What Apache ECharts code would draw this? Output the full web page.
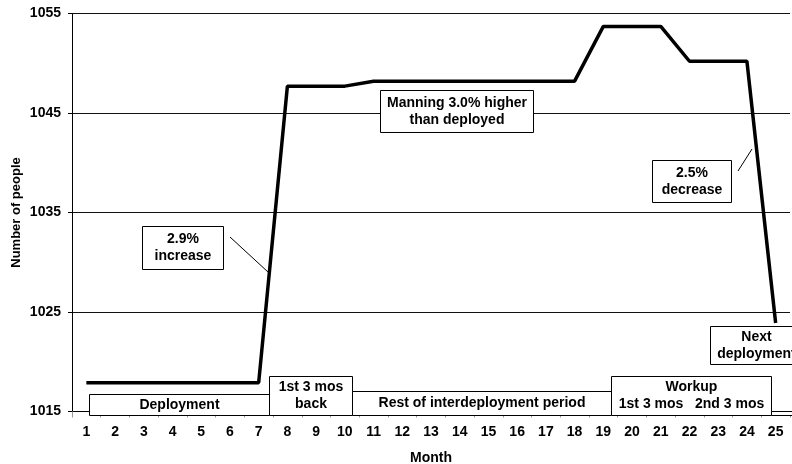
<!DOCTYPE html>
<html>
<head>
<meta charset="utf-8">
<script src="https://cdn.jsdelivr.net/npm/echarts@6/dist/echarts.min.js"></script>
<style>
  html, body { margin: 0; padding: 0; background: #fff; }
  #chart { width: 792px; height: 464px; }
</style>
</head>
<body>
<div id="chart"></div>
<script>
// datos del grafico
const months = ["1","2","3","4","5","6","7","8","9","10","11","12","13","14","15","16","17","18","19","20","21","22","23","24","25"];
const people = [1017.9,1017.9,1017.9,1017.9,1017.9,1017.9,1017.9,1047.7,1047.7,1047.7,1048.2,1048.2,1048.2,1048.2,1048.2,1048.2,1048.2,1048.2,1053.7,1053.7,1053.7,1050.2,1050.2,1050.2,1023.9];
const yMin = 1015;
const yMax = 1055;
const yStep = 10;

const FONT = '"Liberation Sans", Arial, sans-serif';

const chart = echarts.init(document.getElementById("chart"));

// caja con texto (anotaciones y periodos)
const box = (x, y, w, h, text) => ([
    {
        type: "rect",
        z: 100,
        shape: { x: x, y: y, width: w, height: h },
        style: { fill: "#fff", stroke: "#000", lineWidth: 1 }
    },
    {
        type: "text",
        z: 101,
        x: x + w / 2,
        y: y + h / 2,
        style: {
            text: text,
            align: "center",
            verticalAlign: "middle",
            font: "bold 14px " + FONT,
            lineHeight: 17,
            fill: "#000"
        }
    }
]);

const leader = (x1, y1, x2, y2) => ({
    type: "line",
    z: 100,
    shape: { x1: x1, y1: y1, x2: x2, y2: y2 },
    style: { stroke: "#000", lineWidth: 1 }
});

const option = {
    backgroundColor: "#fff",
    animation: false,
    grid: { left: 72, right: 2, top: 13.5, bottom: 52.5, containLabel: false, outerBoundsMode: "none" },
    xAxis: {
        type: "category",
        data: months,
        name: "Month",
        nameLocation: "middle",
        nameGap: 40,
        nameMoveOverlap: false,
        nameTextStyle: { fontFamily: FONT, fontWeight: "bold", fontSize: 14, color: "#000" },
        axisLine: { lineStyle: { color: "#000", width: 1 } },
        axisTick: { show: true, length: 6, lineStyle: { color: "#999" } },
        axisLabel: { fontFamily: FONT, fontWeight: "bold", fontSize: 14, color: "#000", margin: 14, interval: 0 }
    },
    yAxis: {
        type: "value",
        min: yMin,
        max: yMax,
        interval: yStep,
        name: "Number of people",
        nameLocation: "middle",
        nameGap: 49,
        nameMoveOverlap: false,
        nameTextStyle: { fontFamily: FONT, fontWeight: "bold", fontSize: 13, color: "#000" },
        axisLine: { show: true, lineStyle: { color: "#000", width: 1 } },
        axisTick: { show: true, length: 4, lineStyle: { color: "#000" } },
        axisLabel: {
            fontFamily: FONT, fontWeight: "bold", fontSize: 14, color: "#000", margin: 11,
            formatter: (v) => String(v) // sin separador de miles
        },
        splitLine: { show: true, lineStyle: { color: "#111", width: 1 } }
    },
    series: [
        {
            type: "line",
            data: people,
            showSymbol: false,
            symbol: "none",
            lineStyle: { color: "#000", width: 3.5 },
            z: 5
        }
    ],
    graphic: [
        // anotaciones
        ...box(142.5, 226.5, 81, 43, "2.9%\nincrease"),
        leader(230, 237, 268, 272),
        ...box(380.5, 90.5, 153, 42, "Manning 3.0% higher\nthan deployed"),
        ...box(652.5, 160.5, 79, 42, "2.5%\ndecrease"),
        leader(738, 171, 752, 149),
        ...box(710.5, 326.5, 92, 38, "Next\ndeployment"),
        // periodos
        ...box(89.5, 394.5, 180, 21, "Deployment"),
        ...box(269.5, 376.5, 83, 39, "1st 3 mos\nback"),
        ...box(352.5, 391.5, 259, 24, "Rest of interdeployment period"),
        ...box(611.5, 376.5, 160, 39, "Workup\n1st 3 mos   2nd 3 mos"),
        ...box(771.5, 411.5, 25, 4, "")
    ]
};

chart.setOption(option);

window.addEventListener("resize", () => chart.resize());
</script>
</body>
</html>
